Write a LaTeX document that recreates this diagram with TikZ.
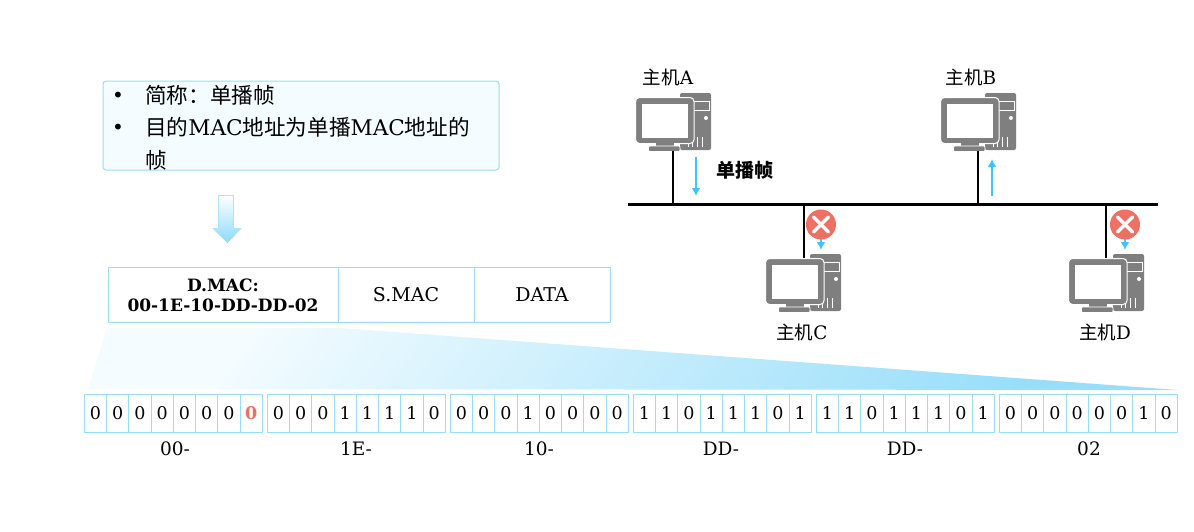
\documentclass[tikz,border=0pt]{standalone}
\usepackage{fontspec}
\setmainfont{DejaVu Serif}
\newfontfamily\cjk{Noto Sans CJK SC}
\usetikzlibrary{arrows.meta}
\definecolor{cellline}{HTML}{98DEFA}
\definecolor{boxfill}{HTML}{F4FCFF}
\definecolor{pcgrey}{HTML}{7F7F7F}
\definecolor{sig}{HTML}{40C4FF}
\definecolor{stopred}{HTML}{EE7065}
\newcommand{\fs}[1]{\fontsize{#1}{#1}\selectfont}
\newcommand{\cn}[1]{{\cjk #1}}
\tikzset{
  x=1pt,y=-1pt,
  bitcell/.style={draw=cellline,line width=1pt,minimum width=22.3pt,minimum height=38pt,inner sep=0pt,font=\fs{17.5}},
  framecell/.style={draw=cellline,line width=1pt,minimum height=55pt,inner sep=0pt,font=\fs{19},align=center},
  lbl/.style={inner sep=0pt,font=\fs{18.5}},
  boxtxt/.style={inner sep=0pt,anchor=west,font=\fs{21.6}},
  bus/.style={line width=3pt,black},
  drop/.style={line width=2pt,black},
  sigarrow/.style={line width=2pt,sig,-{Latex[length=8pt,width=9pt]}},
}
% tower top-left at (#1,#2)
\newcommand{\computer}[2]{%
\begin{scope}[shift={(#1,#2)}]
  \fill[pcgrey,rounded corners=2pt] (0,0) rectangle (31,57);
  \draw[white,line width=1pt] (10,8) rectangle (29,17);
  \fill[white] (26,25) circle (2pt);
  \foreach \vx in {8,12.5,17,22}{\draw[white,line width=1pt] (\vx,44) -- (\vx,54);}
  \fill[pcgrey,draw=white,line width=1pt,rounded corners=4pt] (-44.5,4.5) rectangle (14,50.5);
  \fill[white] (-38,11) rectangle (8,45);
  \fill[pcgrey] (-24,50) rectangle (-6,54);
  \fill[pcgrey,draw=white,line width=0.8pt,rounded corners=1pt] (-31.5,53) rectangle (0,58.5);
\end{scope}}
\newcommand{\stopmark}[1]{%
  \fill[stopred] (#1) circle (15pt);
  \draw[white,line width=3.5pt,line cap=round] ([shift={(-7.5,-7.5)}]#1) -- ([shift={(7.5,7.5)}]#1);
  \draw[white,line width=3.5pt,line cap=round] ([shift={(-7.5,7.5)}]#1) -- ([shift={(7.5,-7.5)}]#1);
}
\begin{document}
\begin{tikzpicture}
\useasboundingbox (0,0) rectangle (1194,531);
% text box
\node[draw=cellline,fill=boxfill,line width=1pt,rounded corners=3pt,minimum width=396pt,minimum height=89pt,inner sep=0pt] (tbox) at (301,125.5) {};
\node[boxtxt,font=\fs{20}] (b1) at (112,97) {•};
\node[boxtxt] (t1) at (145,95) {\cn{简称：单播帧}};
\node[boxtxt,font=\fs{20}] (b2) at (112,129) {•};
\node[boxtxt] (t2) at (145,127) {\cn{目的}MAC\cn{地址为单播}MAC\cn{地址的}};
\node[boxtxt] (t3) at (145,160) {\cn{帧}};
% block arrow
\shade[top color=white,bottom color=cellline!85!sig] (218,195) -- (233,195) -- (233,228) -- (242,228) -- (227.5,243) -- (212,228) -- (218,228) -- cycle;
\draw[cellline!80,line width=1pt] (218,228) -- (218,195) -- (233,195) -- (233,228);
% frame
\node[framecell,minimum width=230pt,font=\fs{17}\bfseries] (dmac) at (223,295) {D.MAC:\\[3pt]00-1E-10-DD-DD-02};
\node[framecell,minimum width=136pt] (smac) at (406,295) {S.MAC};
\node[framecell,minimum width=136pt] (data) at (542,295) {DATA};
% expansion wedge
\shade[left color=boxfill,right color=cellline,shading angle=52] (107,328) -- (340,328) -- (1178,390) -- (88,389) -- cycle;
% bits
\foreach \g/\bits/\lab/\lx [count=\gi from 0] in {
  0/{0,0,0,0,0,0,0,0}/00-/175,
  1/{0,0,0,1,1,1,1,0}/1E-/356,
  2/{0,0,0,1,0,0,0,0}/10-/539,
  3/{1,1,0,1,1,1,0,1}/DD-/721,
  4/{1,1,0,1,1,1,0,1}/DD-/905,
  5/{0,0,0,0,0,0,1,0}/02/1089}{
  \foreach \b [count=\i from 0] in \bits {
    \pgfmathsetmacro{\cx}{84.3+183*\g+22.25*\i+11.1}
    \ifnum\g=0 \ifnum\i=7
      \node[bitcell,text=stopred,font=\fs{17.5}\bfseries] (bit-\g-\i) at (\cx,413) {\b};
    \else
      \node[bitcell] (bit-\g-\i) at (\cx,413) {\b};
    \fi\else
      \node[bitcell] (bit-\g-\i) at (\cx,413) {\b};
    \fi
  }
  \node[lbl] (grp-\g) at (\lx,449) {\lab};
}
% hosts
\computer{680}{93}
\computer{985}{93}
\computer{810}{254}
\computer{1113}{254}
\node[lbl] (la) at (668,77) {\cn{主机}A};
\node[lbl] (lb) at (971,77) {\cn{主机}B};
\node[lbl] (lc) at (802,332) {\cn{主机}C};
\node[lbl] (ld) at (1105,332) {\cn{主机}D};
\node[inner sep=0pt,font=\fs{19}] (uni) at (744.5,170) {\cjk\bfseries 单播帧};
% bus and connectors
\coordinate (busL) at (628,204);
\coordinate (busR) at (1158,204);
\draw[bus] (busL) -- (busR);
\coordinate (pcA) at (673,151); \coordinate (tapA) at (673,204);
\coordinate (pcB) at (978,151); \coordinate (tapB) at (978,204);
\coordinate (pcC) at (804,258); \coordinate (tapC) at (804,204);
\coordinate (pcD) at (1106,258); \coordinate (tapD) at (1106,204);
\draw[drop] (pcA) -- (tapA);
\draw[drop] (pcB) -- (tapB);
\draw[drop] (pcC) -- (tapC);
\draw[drop] (pcD) -- (tapD);
% signal arrows
\coordinate (a1) at (696,157); \coordinate (a2) at (696,196);
\coordinate (b1s) at (992,196); \coordinate (b2s) at (992,159);
\draw[sigarrow] (a1) -- (a2);
\draw[sigarrow] (b1s) -- (b2s);
\coordinate (c1) at (821,236); \coordinate (c2) at (821,250);
\coordinate (d1) at (1125,236); \coordinate (d2) at (1125,250);
\draw[sigarrow] (c1) -- (c2);
\draw[sigarrow] (d1) -- (d2);
\coordinate (sc) at (821,224.5); \coordinate (sd) at (1125,224.5);
\stopmark{sc}
\stopmark{sd}
\end{tikzpicture}
\end{document}
